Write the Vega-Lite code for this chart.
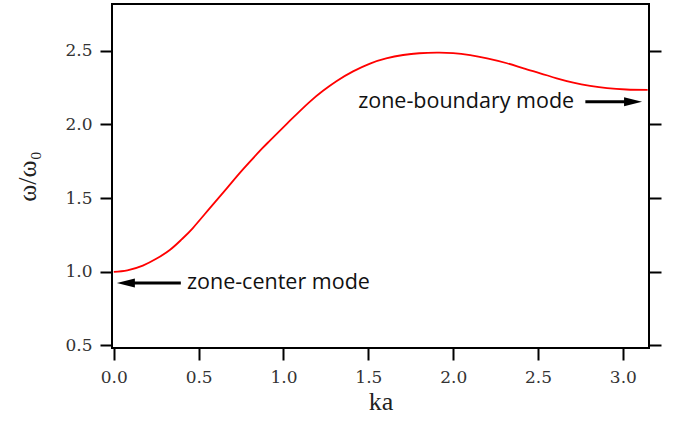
{
  "$schema": "https://vega.github.io/schema/vega-lite/v6.json",
  "width": 537,
  "height": 344,
  "autosize": "none",
  "padding": {"left": 112, "top": 4, "right": 28, "bottom": 77},
  "background": "white",
  "config": {
    "view": {"stroke": "black", "strokeWidth": 2},
    "axis": {
      "domain": false,
      "grid": false,
      "tickColor": "black",
      "tickWidth": 2,
      "tickSize": 12,
      "labelFont": "DejaVu Serif",
      "labelFontSize": 17,
      "labelColor": "#333333",
      "titleFont": "Liberation Serif",
      "titleFontWeight": "normal",
      "titleColor": "#222222"
    }
  },
  "datasets": {
    "curve": [
      {"ka": 0.0, "v": 1.0},
      {"ka": 0.08, "v": 1.01},
      {"ka": 0.171, "v": 1.042},
      {"ka": 0.25, "v": 1.088},
      {"ka": 0.33, "v": 1.148},
      {"ka": 0.4, "v": 1.22},
      {"ka": 0.466, "v": 1.297},
      {"ka": 0.566, "v": 1.432},
      {"ka": 0.667, "v": 1.568},
      {"ka": 0.761, "v": 1.695},
      {"ka": 0.873, "v": 1.835},
      {"ka": 0.92, "v": 1.89},
      {"ka": 1.038, "v": 2.025},
      {"ka": 1.156, "v": 2.155},
      {"ka": 1.235, "v": 2.23},
      {"ka": 1.314, "v": 2.295},
      {"ka": 1.41, "v": 2.36},
      {"ka": 1.51, "v": 2.413},
      {"ka": 1.605, "v": 2.448},
      {"ka": 1.705, "v": 2.471},
      {"ka": 1.8, "v": 2.483},
      {"ka": 1.904, "v": 2.487},
      {"ka": 2.0, "v": 2.484},
      {"ka": 2.1, "v": 2.47},
      {"ka": 2.2, "v": 2.448},
      {"ka": 2.317, "v": 2.415},
      {"ka": 2.415, "v": 2.38},
      {"ka": 2.513, "v": 2.347},
      {"ka": 2.61, "v": 2.313},
      {"ka": 2.708, "v": 2.284},
      {"ka": 2.807, "v": 2.262},
      {"ka": 2.907, "v": 2.246},
      {"ka": 3.02, "v": 2.237},
      {"ka": 3.146, "v": 2.234}
    ],
    "arrows": [
      {"ka": 0.071, "ka2": 0.395, "v": 0.924, "dir": "left"},
      {"ka": 3.06, "ka2": 2.779, "v": 2.154, "dir": "right"}
    ],
    "notes": [
      {"ka": 0.431, "v": 0.926, "label": "zone-center mode"},
      {"ka": 1.44, "v": 2.15, "label": "zone-boundary mode"}
    ]
  },
  "layer": [
    {
      "data": {"name": "curve"},
      "mark": {"type": "line", "color": "#ff0000", "strokeWidth": 1.8, "interpolate": "natural", "clip": true},
      "encoding": {
        "x": {
          "field": "ka", "type": "quantitative",
          "scale": {"domain": [-0.0106, 3.154], "nice": false, "zero": false},
          "axis": {"title": "ka", "titleFontSize": 26, "titleFont": "Liberation Serif", "labelFont": "DejaVu Serif", "values": [0, 0.5, 1, 1.5, 2, 2.5, 3], "format": ".1f", "labelFlush": false, "labelOverlap": false, "labelPadding": 9, "titlePadding": 3}
        },
        "y": {
          "field": "v", "type": "quantitative",
          "scale": {"domain": [0.483, 2.817], "nice": false, "zero": false},
          "axis": {"orient": "left", "title": "ω/ω₀", "titleFontSize": 26, "titleFont": "Liberation Serif", "labelFont": "DejaVu Serif", "values": [0.5, 1, 1.5, 2, 2.5], "format": ".1f", "labelPadding": 8, "titlePadding": 24, "labelOverlap": false}
        }
      }
    },
    {
      "data": {"name": "arrows"},
      "mark": {"type": "rule", "color": "black", "strokeWidth": 3},
      "encoding": {
        "x": {"field": "ka", "type": "quantitative"},
        "x2": {"field": "ka2"},
        "y": {
          "field": "v", "type": "quantitative",
          "scale": {"domain": [0.483, 2.817], "nice": false, "zero": false},
          "axis": {"orient": "right", "title": null, "labels": false, "values": [0.5, 1, 1.5, 2, 2.5]}
        }
      }
    },
    {
      "data": {"name": "arrows"},
      "mark": {"type": "point", "filled": true, "color": "black", "opacity": 1, "size": 324, "strokeWidth": 0},
      "encoding": {
        "x": {"field": "ka", "type": "quantitative"},
        "y": {"field": "v", "type": "quantitative", "axis": null},
        "shape": {
          "field": "dir", "type": "nominal", "legend": null,
          "scale": {"domain": ["left", "right"], "range": ["M-1,0L1,-0.5L1,0.5Z", "M1,0L-1,-0.5L-1,0.5Z"]}
        }
      }
    },
    {
      "data": {"name": "notes"},
      "mark": {"type": "text", "align": "left", "baseline": "middle", "font": "Open Sans", "fontSize": 21.5, "color": "#111111"},
      "encoding": {
        "x": {"field": "ka", "type": "quantitative"},
        "y": {"field": "v", "type": "quantitative", "axis": null},
        "text": {"field": "label"}
      }
    }
  ],
  "resolve": {"axis": {"y": "independent"}}
}
